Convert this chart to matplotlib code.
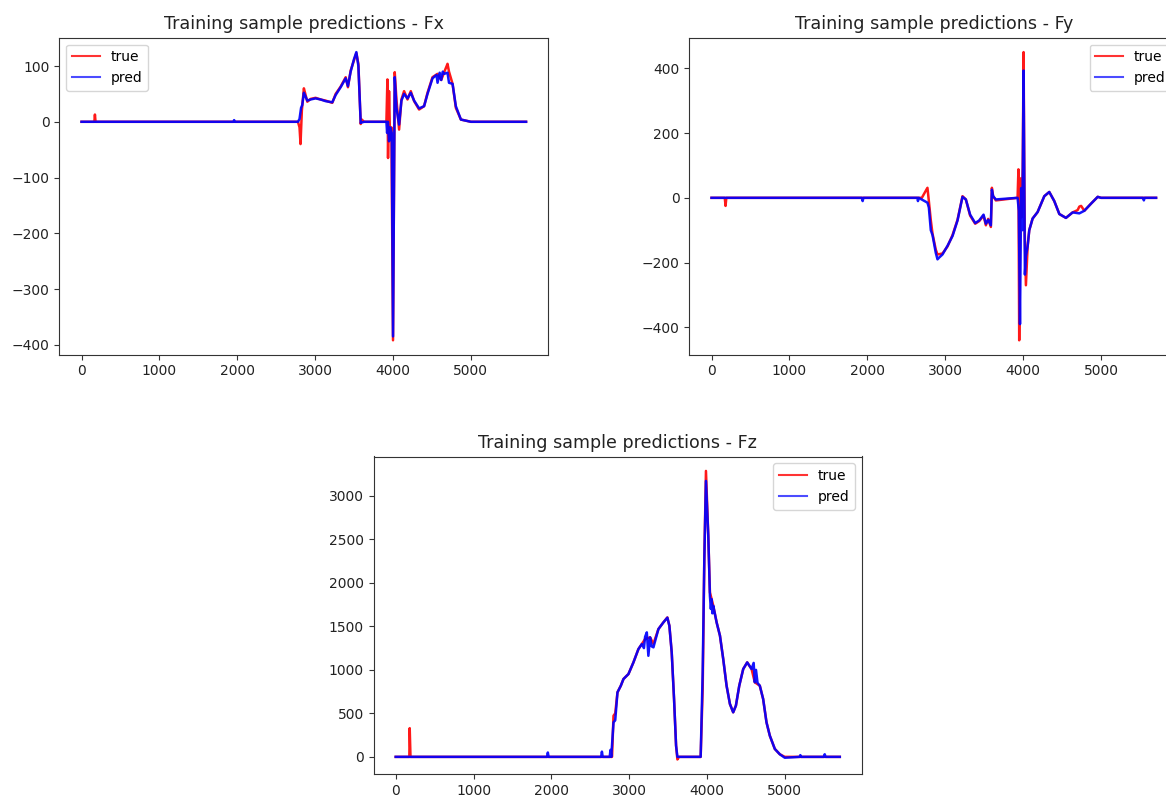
import matplotlib
matplotlib.use("Agg")
import matplotlib.pyplot as plt

# ---------------- data (vertices) ----------------
fx_true_x = [0, 165, 172, 180, 2780, 2800, 2813, 2830, 2856, 2878, 2900, 2942, 3006, 3071, 3135, 3221,
             3264, 3328, 3393, 3422, 3457, 3499, 3530, 3556, 3586, 3600, 3628, 3916, 3929, 3937, 3950,
             3963, 3980, 4001, 4023, 4045, 4079, 4109, 4143, 4187, 4229, 4272, 4336, 4400, 4444, 4508,
             4573, 4620, 4658, 4690, 4701, 4720, 4766, 4808, 4873, 5001, 5200, 5500, 5710]
fx_true_y = [0, 0, 13, 0, 0, -10, -40, 20, 60, 48, 36, 41, 43, 40, 38, 34,
             50, 63, 80, 62, 92, 110, 123, 104, -4, 4, 0, 0, 76, -65, 55,
             -30, -10, -392, 89, 40, -14, 40, 55, 40, 55, 37, 22, 28, 52, 80,
             86, 75, 89, 100, 104, 90, 68, 25, 4, 0, 0, 0, 0]

fx_pred_x = [0, 1950, 1960, 1970, 2780, 2800, 2820, 2835, 2856, 2878, 2900, 2942, 3006, 3071, 3135, 3221,
             3264, 3328, 3393, 3422, 3457, 3499, 3530, 3556, 3586, 3628, 3916, 3925, 3935, 3950, 3965,
             3985, 4001, 4023, 4045, 4079, 4109, 4143, 4187, 4229, 4272, 4336, 4400, 4444, 4508, 4560,
             4573, 4600, 4620, 4640, 4658, 4701, 4720, 4766, 4808, 4873, 5001, 5710]
fx_pred_y = [0, 0, 3, 0, 0, 5, 25, 30, 52, 45, 38, 40, 42, 40, 37, 35,
             48, 62, 78, 64, 90, 112, 125, 100, -2, 0, 0, -20, 0, -35, -10,
             -20, -385, 80, 25, -5, 38, 50, 42, 52, 38, 24, 28, 50, 78, 84,
             70, 88, 75, 90, 86, 88, 70, 68, 28, 4, 0, 0]

fy_true_x = [0, 170, 180, 190, 2700, 2772, 2790, 2815, 2837, 2879, 2901, 2965, 3030, 3094, 3158, 3222,
             3265, 3320, 3385, 3436, 3492, 3522, 3552, 3586, 3599, 3615, 3650, 3929, 3940, 3950, 3965,
             3980, 3995, 4006, 4020, 4036, 4058, 4079, 4122, 4186, 4272, 4336, 4400, 4465, 4550, 4636,
             4700, 4722, 4745, 4786, 4872, 4958, 5000, 5707]
fy_true_y = [0, 0, -25, 0, 0, 31, -10, -69, -111, -160, -175, -172, -150, -115, -68, 5,
             -5, -55, -80, -72, -55, -85, -65, -90, 31, 5, -8, 0, 88, -440, 60,
             -60, 90, 450, -100, -270, -150, -100, -64, -44, 5, 18, -10, -50, -62, -45,
             -38, -27, -25, -40, -18, 3, 0, 0]

fy_pred_x = [0, 1930, 1940, 1950, 2644, 2650, 2660, 2772, 2790, 2815, 2837, 2879, 2901, 2920, 2965, 3030,
             3094, 3158, 3222, 3265, 3320, 3385, 3436, 3492, 3522, 3552, 3586, 3599, 3615, 3650, 3929,
             3945, 3960, 3975, 3990, 4006, 4023, 4036, 4058, 4079, 4122, 4186, 4272, 4336, 4400, 4465,
             4550, 4636, 4722, 4786, 4872, 4958, 5000, 5540, 5550, 5560, 5707]
fy_pred_y = [0, 0, -10, 0, 0, -10, 0, -15, -30, -100, -115, -170, -190, -185, -175, -148,
             -118, -70, 3, -5, -52, -78, -70, -52, -80, -68, -85, 25, 5, -5, 0,
             -40, -390, 30, -100, 393, -237, -180, -150, -100, -64, -44, 5, 18, -10, -50,
             -62, -45, -48, -40, -18, 3, 0, 0, -8, 0, 0]

fz_true_x = [0, 175, 180, 190, 2780, 2799, 2821, 2850, 2893, 2927, 2991, 3055, 3119, 3163, 3205, 3269,
             3312, 3376, 3440, 3491, 3517, 3547, 3577, 3603, 3620, 3640, 3919, 3945, 3966, 3987, 4017,
             4038, 4060, 4081, 4124, 4167, 4209, 4252, 4295, 4337, 4372, 4415, 4466, 4517, 4573, 4615,
             4679, 4722, 4765, 4808, 4872, 4936, 5000, 5707]
fz_true_y = [0, 0, 330, 0, 0, 473, 500, 742, 818, 895, 952, 1086, 1239, 1297, 1355, 1374,
             1300, 1469, 1546, 1603, 1507, 1201, 665, 129, -30, 0, 0, 780, 2273, 3287, 2540,
             1890, 1813, 1737, 1546, 1393, 1124, 818, 608, 512, 589, 818, 1010, 1086, 1010, 857,
             818, 665, 397, 243, 91, 30, 0, 0]

fz_pred_x = [0, 1945, 1955, 1965, 2640, 2650, 2660, 2750, 2760, 2770, 2799, 2821, 2850, 2893, 2927, 2991,
             3055, 3119, 3163, 3190, 3205, 3227, 3247, 3269, 3290, 3312, 3376, 3440, 3491, 3517, 3547,
             3577, 3603, 3620, 3919, 3945, 3966, 3987, 4017, 4038, 4050, 4060, 4070, 4081, 4124, 4167,
             4209, 4252, 4295, 4337, 4372, 4415, 4466, 4517, 4573, 4600, 4615, 4630, 4650, 4679, 4722,
             4765, 4808, 4872, 4936, 5000, 5100, 5190, 5200, 5210, 5500, 5513, 5525, 5707]
fz_pred_y = [0, 0, 50, 0, 0, 60, 0, 0, 80, 0, 397, 420, 742, 818, 895, 952,
             1086, 1239, 1297, 1250, 1380, 1431, 1162, 1374, 1270, 1259, 1469, 1546, 1600, 1507, 1201,
             665, 129, 0, 0, 972, 2273, 3172, 2540, 1850, 1700, 1813, 1650, 1737, 1546, 1393,
             1124, 818, 608, 512, 589, 818, 1010, 1086, 1010, 1080, 857, 1000, 850, 818, 665,
             397, 243, 91, 30, -10, -5, 0, 20, 0, 0, 30, 0, 0]

titles = ["Training sample predictions - Fx",
          "Training sample predictions - Fy",
          "Training sample predictions - Fz"]
legend_locs = ["upper left", "upper right", "upper right"]

# ---------------- figure ----------------
W, H = 1166, 797
fig = plt.figure(figsize=(W / 100, H / 100), dpi=100)

def axes_px(left, top, width, height):
    return fig.add_axes([left / W, (H - top - height) / H, width / W, height / H])

ax1 = axes_px(59.3, 37.7, 489, 317)
ax2 = axes_px(689.3, 37.7, 489, 317)
ax3 = axes_px(373.5, 456.5, 488.5, 317.4)

series = [
    (ax1, fx_true_x, fx_true_y, fx_pred_x, fx_pred_y),
    (ax2, fy_true_x, fy_true_y, fy_pred_x, fy_pred_y),
    (ax3, fz_true_x, fz_true_y, fz_pred_x, fz_pred_y),
]

for (ax, tx, ty, px, py), title, loc in zip(series, titles, legend_locs):
    ax.plot(tx, ty, color="red", alpha=0.9, lw=1.8, label="true")
    ax.plot(px, py, color="blue", alpha=0.92, lw=1.8, label="pred")
    ax.set_title(title, fontsize=12.6, color="#222222")
    leg = ax.legend(loc=loc)
    for h, a in zip(leg.get_lines(), [0.8, 0.7]):
        h.set_alpha(a)
        h.set_linewidth(1.5)
    ax.set_xticks([0, 1000, 2000, 3000, 4000, 5000])
    for s in ax.spines.values():
        s.set_color("#333333")
    ax.tick_params(colors="#333333", labelcolor="#222222")

ax1.set_yticks([-400, -300, -200, -100, 0, 100])
ax2.set_yticks([-400, -200, 0, 200, 400])
ax3.set_yticks([0, 500, 1000, 1500, 2000, 2500, 3000])

fig.savefig("out.png", dpi=100)
